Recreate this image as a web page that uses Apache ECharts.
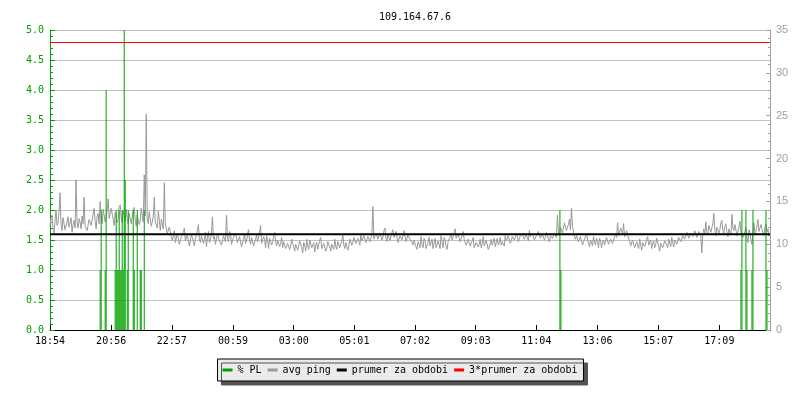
<!DOCTYPE html>
<html>
<head>
<meta charset="utf-8">
<script src="https://cdn.jsdelivr.net/npm/echarts@6/dist/echarts.min.js"></script>
<style>html,body{margin:0;padding:0;background:#fff}#c{width:800px;height:400px}</style>
</head>
<body>
<div id="c"></div>
<script>
// ---- data ----
const titleText = '109.164.67.6';
const tickLabels = ['18:54','20:56','22:57','00:59','03:00','05:01','07:02','09:03','11:04','13:06','15:07','17:09'];
const spanMinutes = 1436;          // length of the period (minutes)
const pingStepMinutes = 2;         // sampling step of ping values
// avg ping (ms), one sample every pingStepMinutes from 18:54
const pingValues = [
12.1,13.0,13.4,11.9,11.3,12.7,14.0,12.2,12.5,13.8,16.0,12.4,11.6,13.1,12.9,11.7,11.8,12.6,13.2,12.0,
12.0,13.1,11.4,12.3,12.8,11.9,17.5,12.5,11.9,13.0,12.6,11.8,13.3,12.4,15.5,12.1,12.2,11.6,11.7,12.9,
13.0,12.2,12.1,13.5,14.2,12.7,11.8,13.3,13.6,12.4,15.0,13.2,12.4,14.1,13.9,12.6,12.8,14.0,15.3,13.0,
13.1,14.2,14.4,12.9,12.2,13.7,13.8,12.5,12.9,14.3,14.6,13.1,12.5,13.9,13.4,12.7,14.1,13.0,12.3,13.6,
13.7,12.4,12.6,14.0,14.3,12.8,12.1,13.4,13.5,12.3,12.8,14.2,14.0,12.6,18.1,13.3,25.2,12.9,12.4,13.8,
13.6,12.1,12.0,13.2,15.5,12.6,12.7,11.9,13.9,12.8,11.6,12.9,12.8,11.8,17.2,12.4,12.2,11.3,11.5,12.0,
11.8,10.9,
10.4,11.0,11.6,10.2,10.1,11.3,11.2,10.0,9.9,10.9,10.8,11.5,11.9,10.4,10.3,11.1,11.0,9.8,
10.5,11.2,11.4,10.3,9.8,10.7,10.9,11.6,12.3,10.5,10.2,11.0,11.1,10.1,10.6,11.4,9.7,10.8,11.5,10.2,
10.4,11.1,13.2,10.6,10.9,10.0,10.0,11.2,11.3,10.4,10.6,9.9,9.8,11.0,11.0,10.3,13.4,10.8,10.3,11.5,
11.2,10.0,9.9,10.8,10.7,11.3,11.5,10.2,10.1,10.9,10.8,9.7,9.6,10.6,11.3,10.1,10.4,11.2,11.7,10.5,
10.0,10.8,10.9,9.8,9.7,10.6,11.1,10.3,10.5,11.4,12.2,10.1,9.9,10.9,10.6,9.6,11.0,10.4,9.5,10.7,
10.8,9.9,10.2,11.0,11.4,10.3,9.8,10.5,10.6,9.7,10.1,10.8,
9.6,10.3,10.5,9.5,9.3,10.1,10.2,9.4,9.8,10.6,10.7,9.7,9.2,10.0,
10.1,9.3,9.5,10.4,10.4,9.6,9.0,10.2,9.9,9.2,10.6,9.8,9.4,10.5,
10.3,9.6,9.7,10.2,9.1,9.9,10.2,9.4,9.6,10.5,10.8,9.5,9.3,10.1,10.0,9.2,9.5,10.3,10.4,9.7,
9.2,10.0,9.9,9.4,10.6,9.8,9.4,10.3,10.1,9.6,9.7,10.4,11.2,9.9,9.5,10.2,10.3,9.3,9.8,10.6,10.5,9.9,
10.2,10.8,10.9,10.1,10.0,10.7,10.6,9.9,11.1,10.4,10.3,11.0,10.8,10.2,10.1,10.9,11.0,10.3,10.4,11.1,
14.4,10.6,10.7,11.3,
11.2,10.6,10.4,11.3,11.5,10.5,10.8,11.6,11.9,10.7,10.3,11.2,11.1,10.4,10.6,11.4,11.7,10.8,
10.9,11.5,11.3,10.2,10.2,11.0,11.0,10.5,10.7,11.6,11.4,10.3,10.5,11.1,11.2,10.6,10.6,10.2,
9.9,10.5,10.6,9.7,9.4,10.3,10.2,9.6,10.9,10.0,9.6,10.7,10.4,9.5,9.3,10.2,10.8,9.8,
10.0,10.6,9.5,10.1,10.7,9.6,9.8,10.4,10.3,9.5,11.0,10.2,9.6,10.8,10.5,9.7,9.4,10.3,10.1,10.9,
11.3,10.5,10.6,11.4,11.8,10.7,10.8,11.2,11.1,10.3,10.4,11.0,11.5,10.6,10.2,9.9,9.7,10.6,10.5,9.8,
9.9,10.4,10.8,9.6,9.5,10.2,10.3,9.7,10.0,10.6,9.6,10.1,10.9,9.8,9.8,10.5,10.4,9.4,9.3,10.0,
10.6,9.9,10.1,10.7,9.7,10.2,10.7,9.9,10.2,10.8,9.9,10.3,10.5,9.8,11.0,10.4,10.3,11.0,10.8,10.1,
10.4,10.9,11.1,10.5,10.6,11.2,10.9,10.3,10.5,11.0,
10.8,11.2,11.3,10.6,10.5,11.1,11.0,10.4,11.6,10.9,10.7,11.3,11.2,10.5,10.4,11.0,10.9,11.5,
11.4,10.7,10.6,11.2,11.1,10.5,10.8,11.4,11.5,10.6,10.3,11.0,11.0,10.7,10.7,11.3,11.2,10.8,
13.4,11.5,
11.0,12.0,12.2,11.3,11.4,12.5,12.6,11.6,11.8,12.3,12.9,11.7,14.2,12.1,11.5,10.9,
10.6,11.0,11.1,10.3,10.2,10.9,10.8,9.9,9.8,10.6,10.5,11.2,11.0,10.1,9.7,10.5,10.4,9.8,10.9,10.2,
9.9,10.7,10.3,9.6,10.7,10.4,9.6,10.2,10.5,9.9,10.1,10.8,10.8,10.0,9.8,10.6,10.6,10.1,10.2,10.9,
11.3,10.8,12.5,11.0,11.0,11.9,11.8,11.2,12.4,10.9,10.9,11.6,11.5,10.7,
10.4,9.8,9.8,10.5,10.7,9.6,9.4,10.3,10.1,9.5,10.6,10.0,9.3,10.2,10.2,9.7,9.7,10.6,10.9,9.9,
10.0,10.5,9.5,10.1,10.4,9.6,9.9,10.7,10.6,9.8,9.2,10.1,10.3,9.6,9.8,10.4,10.5,9.9,9.6,10.6,
10.1,9.7,10.8,10.2,9.7,10.5,10.4,10.0,10.0,10.8,10.7,10.3,
10.5,11.0,11.2,10.6,10.8,11.4,11.5,10.7,10.6,11.3,11.3,10.9,11.0,11.6,11.7,10.8,10.9,11.5,11.4,11.0,
9.0,11.2,
11.8,11.2,12.6,11.5,11.2,12.2,12.3,11.4,11.5,12.4,13.6,11.7,11.0,12.0,12.1,11.3,11.7,12.5,12.8,11.6,
11.3,12.1,12.4,11.5,10.9,11.8,12.0,11.1,13.5,11.9,11.6,12.3,12.2,11.0,11.1,12.0,12.7,11.4,11.4,10.8,
10.6,11.5,12.0,10.9,10.2,11.7,11.3,10.5,10.0,11.4,12.5,11.2,11.1,12.1,12.9,11.5,11.6,12.3,12.2,11.3,
11.0,12.0,12.4,11.4,11.8,11.1
];
// packet loss (%) : minutes after 18:54 and value
const plMinutes = [100,102,110,112,130,132,134,136,138,140,142,144,146,148,150,154,156,166,168,174,180,182,188,1017,1019,1378,1380,1388,1390,1400,1402,1428,1430];
const plValues  = [1.0,2.0,1.0,4.0,1.0,2.0,1.0,1.0,2.0,1.0,1.0,2.0,1.0,5.0,2.5,1.0,2.0,2.0,1.0,2.0,1.0,1.0,2.0,2.0,1.0,1.0,2.0,2.0,1.0,1.0,2.0,2.0,1.0];
const avgPing = 11.18;   // prumer za obdobi (ms)
const seriesNames = ['% PL','avg ping','prumer za obdobi','3*prumer za obdobi'];

// ---- build ----
const toMin = s => { const [h,m] = s.split(':').map(Number); return h*60+m; };
const t0 = toMin(tickLabels[0]);
const tickMins = tickLabels.map(s => ((toMin(s) - t0) % 1440 + 1440) % 1440);
const pingData = pingValues.map((v,i) => [i*pingStepMinutes, v]);
const plData = plMinutes.map((m,i) => [m, plValues[i]]);
const MONO = 'DejaVu Sans Mono';
const GREEN = '#00a000', GREY = '#999999';

const chart = echarts.init(document.getElementById('c'), null, {renderer:'canvas'});
chart.setOption({
  animation: false,
  backgroundColor: '#ffffff',
  title: { text: titleText, left: 410, top: 7, textAlign: 'center',
    textStyle: { fontFamily: MONO, fontSize: 10, fontWeight: 'normal', color: '#000' } },
  grid: { left: 50, right: 30, top: 30, bottom: 70 },
  legend: {
    data: seriesNames, left: 'center', top: 359, icon: 'rect', itemWidth: 10, itemHeight: 3, itemGap: 6,
    padding: [6, 6, 6, 5], backgroundColor: '#ebebeb', borderColor: '#000', borderWidth: 1,
    shadowColor: '#555555', shadowBlur: 0, shadowOffsetX: 4, shadowOffsetY: 4,
    textStyle: { fontFamily: MONO, fontSize: 10, color: '#000' }
  },
  xAxis: {
    type: 'value', min: 0, max: spanMinutes,
    axisLine: { show: true, lineStyle: { color: '#000', width: 1 } },
    axisTick: { show: true, inside: true, length: 5, lineStyle: { color: '#000' }, customValues: tickMins },
    axisLabel: { customValues: tickMins, margin: 6, color: '#000', fontFamily: MONO, fontSize: 10,
      formatter: v => { const i = tickMins.indexOf(Math.round(v)); return i >= 0 ? tickLabels[i] : ''; } },
    splitLine: { show: false }
  },
  yAxis: [
    { type: 'value', min: 0, max: 5, interval: 0.5, position: 'left',
      axisLine: { show: true, lineStyle: { color: GREEN } },
      axisTick: { show: true, inside: true, length: 5, lineStyle: { color: GREEN } },
      minorTick: { show: true, splitNumber: 5, length: 3, lineStyle: { color: GREEN } },
      axisLabel: { color: GREEN, fontFamily: MONO, fontSize: 10, margin: 6, formatter: v => v.toFixed(1) },
      splitLine: { show: true, lineStyle: { color: '#c0c0c0', width: 1 } } },
    { type: 'value', min: 0, max: 35, interval: 5, position: 'right',
      axisLine: { show: true, lineStyle: { color: '#a0a0a0' } },
      axisTick: { show: true, inside: true, length: 4, lineStyle: { color: '#a0a0a0' } },
      minorTick: { show: true, splitNumber: 5, length: 2, lineStyle: { color: '#a0a0a0' } },
      axisLabel: { color: '#a0a0a0', fontFamily: 'Liberation Sans', fontSize: 11, margin: 6 },
      splitLine: { show: false } }
  ],
  series: [
    { name: seriesNames[1], type: 'line', yAxisIndex: 1, data: pingData, symbol: 'none', z: 2,
      lineStyle: { color: GREY, width: 1 }, itemStyle: { color: GREY } },
    { name: seriesNames[0], type: 'bar', yAxisIndex: 0, data: plData, barWidth: 1, z: 3,
      itemStyle: { color: GREEN } },
    { name: seriesNames[2], type: 'line', yAxisIndex: 1, data: [[0, avgPing],[spanMinutes, avgPing]], symbol: 'none', z: 4,
      lineStyle: { color: '#000', width: 2 }, itemStyle: { color: '#000' } },
    { name: seriesNames[3], type: 'line', yAxisIndex: 1, data: [[0, 3*avgPing],[spanMinutes, 3*avgPing]], symbol: 'none', z: 4,
      lineStyle: { color: '#ff0000', width: 1 }, itemStyle: { color: '#ff0000' } }
  ]
});
</script>
</body>
</html>
